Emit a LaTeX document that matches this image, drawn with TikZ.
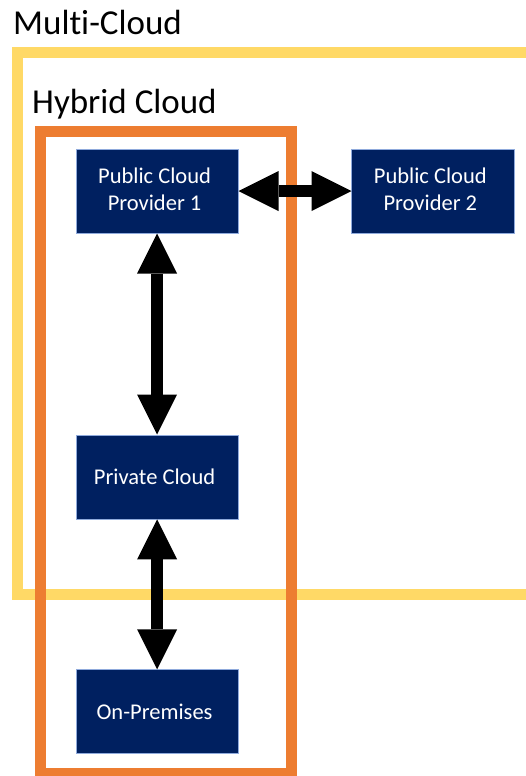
\documentclass[tikz,border=0pt]{standalone}
\usepackage{fontspec}
\setmainfont{Carlito}[Ligatures=NoCommon]
\usepackage{tikz}
\usetikzlibrary{matrix,arrows.meta}
\definecolor{navy}{HTML}{002060}
\definecolor{boxline}{HTML}{8FAADC}
\definecolor{gold}{HTML}{FFD966}
\definecolor{tangerine}{HTML}{ED7D31}
\newcommand{\twolines}[2]{\begin{tabular}{@{}c@{}}#1\\#2\end{tabular}}
\tikzset{
	cloudbox/.style={rectangle, fill=navy, draw=boxline, line width=0.8pt, text=white, align=center, minimum width=162pt, minimum height=84pt, inner sep=0pt, font=\fontsize{22.5}{27}\selectfont},
	bigarrow/.style={line width=12pt, >={Triangle[length=40pt,width=40pt,line width=0pt]}, <->},
	cloudframe/.style={line width=11pt},
	title/.style={anchor=base west, inner sep=0pt, font=\fontsize{35}{42}\selectfont}
}
\begin{document}
\begin{tikzpicture}[x=1pt,y=-1pt]
\useasboundingbox (0,0) rectangle (525,776);
\draw[cloudframe, gold] (17.5,53) rectangle (560,594);
\draw[cloudframe, tangerine] (40.5,131) rectangle (291,773);
\node (multi) [title] at (13,35) {Multi-Cloud};
\node (hybrid) [title] at (32,113) {Hybrid Cloud};
\matrix (m) [matrix of nodes, nodes=cloudbox, row sep=150pt, column sep=113pt, anchor=north west, inner sep=0pt] at (75.5,148.5)
{
	\twolines{Public Cloud}{Provider 1} & \twolines{Public Cloud}{Provider 2} \\[51pt]
	Private Cloud & \\
	On-Premises & \\
};
\path[bigarrow]
(m-1-1) edge (m-1-2)
(m-1-1) edge (m-2-1)
(m-2-1) edge (m-3-1)
;
\end{tikzpicture}
\end{document}
